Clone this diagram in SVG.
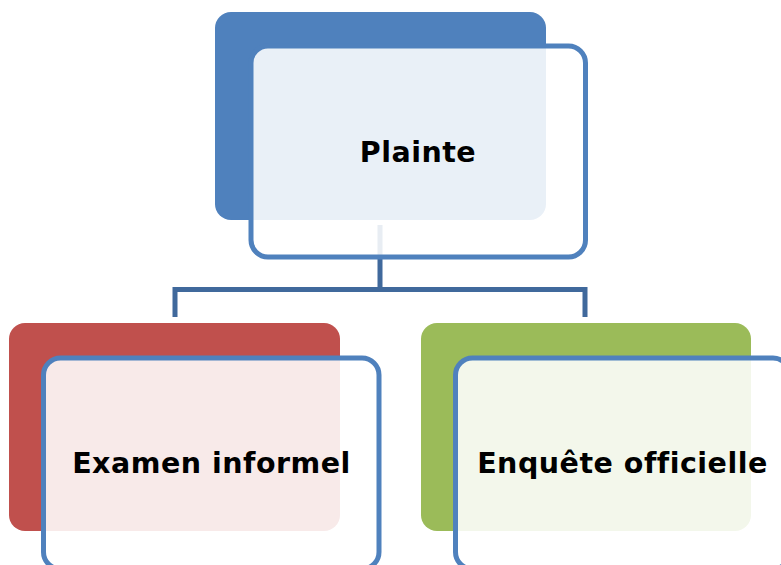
<svg xmlns="http://www.w3.org/2000/svg" width="781" height="565" viewBox="0 0 781 565">
  <style>
    .back { stroke: none; }
    .card { fill: #ffffff; fill-opacity: 0.88; stroke: #4F81BD; stroke-width: 5; }
    .label { font-family: "DejaVu Sans", Verdana, sans-serif; font-weight: bold; font-size: 28.5px; letter-spacing: 0.5px; fill: #000000; text-anchor: middle; }
    .link { fill: none; stroke: #40699C; stroke-width: 5; stroke-linejoin: miter; }
  </style>
  <rect width="781" height="565" fill="#ffffff"/>

  <!-- tree connectors, drawn under the cards -->
  <g id="connectors">
    <path class="link" d="M380,225 V289.5 M175,317 V289.5 H585 V317"/>
  </g>

  <g id="node-plainte">
    <rect class="back" x="215" y="12" width="331" height="208" rx="16" fill="#4F81BD"/>
    <rect class="card" x="251" y="46" width="334.5" height="211" rx="17"/>
    <text class="label" x="418" y="162">Plainte</text>
  </g>

  <g id="node-examen">
    <rect class="back" x="9" y="323" width="331" height="208" rx="16" fill="#C0504D"/>
    <rect class="card" x="43.5" y="358" width="335.5" height="211" rx="17"/>
    <text class="label" x="211.5" y="473">Examen informel</text>
  </g>

  <g id="node-enquete">
    <rect class="back" x="421" y="323" width="330" height="208" rx="16" fill="#9BBB59"/>
    <rect class="card" x="455.5" y="358" width="334.5" height="211" rx="17"/>
    <text class="label" x="622.5" y="473">Enquête officielle</text>
  </g>
</svg>
